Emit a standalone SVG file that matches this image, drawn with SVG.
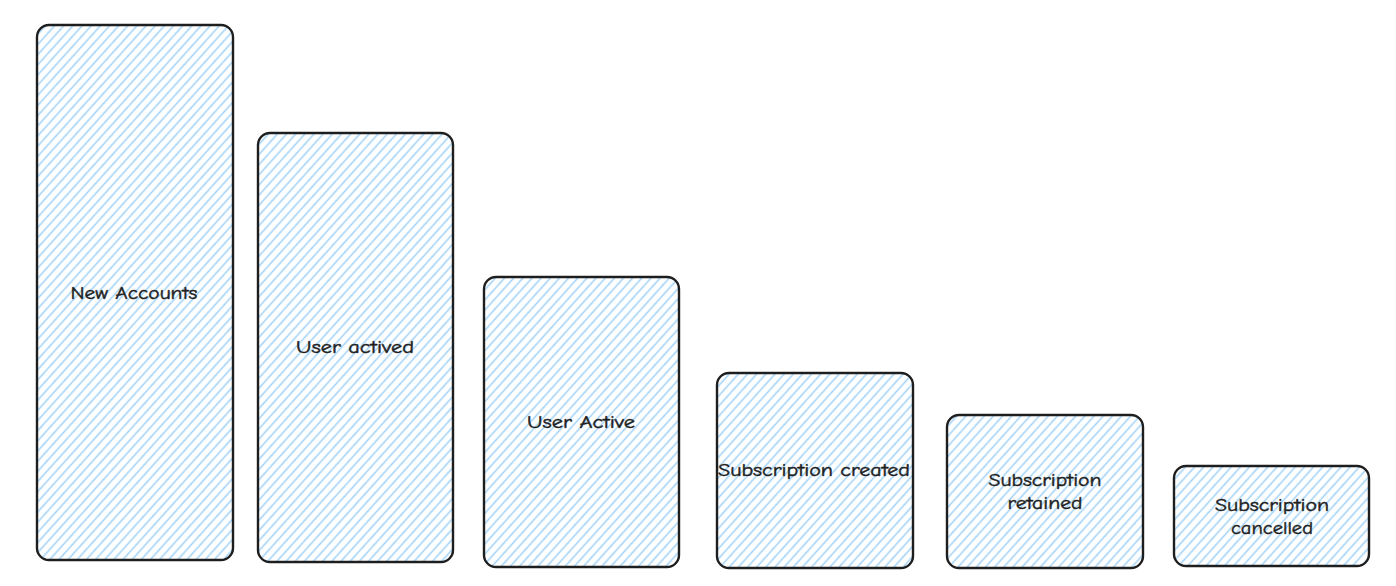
<svg xmlns="http://www.w3.org/2000/svg" width="1396" height="586" viewBox="0 0 1396 586">
<defs>
<pattern id="hatch" patternUnits="userSpaceOnUse" width="6.8" height="6.8" patternTransform="rotate(42)">
<line x1="3.4" y1="-1" x2="3.4" y2="7.8" stroke="#9fd0f7" stroke-width="1.5"/>
</pattern>
</defs>
<style>
.box{fill:url(#hatch);stroke:#1e1e1e;stroke-width:2.4;}
.lbl{font-family:"Comic Neue","Liberation Sans",sans-serif;font-size:18px;font-weight:400;fill:#1e1e1e;stroke:#1e1e1e;stroke-width:0.45;text-anchor:middle;dominant-baseline:central;}
</style>
<rect width="1396" height="586" fill="#ffffff"/>
<g id="connectors"/>
<g id="new-accounts">
<rect class="box" x="37" y="25" width="196" height="535" rx="12"/>
<text class="lbl" x="134" y="293" textLength="127" lengthAdjust="spacingAndGlyphs">New Accounts</text>
</g>
<g id="user-actived">
<rect class="box" x="258" y="133" width="195" height="429" rx="12"/>
<text class="lbl" x="355" y="347" textLength="118" lengthAdjust="spacingAndGlyphs">User actived</text>
</g>
<g id="user-active">
<rect class="box" x="484" y="277" width="195" height="290" rx="12"/>
<text class="lbl" x="581" y="422" textLength="108" lengthAdjust="spacingAndGlyphs">User Active</text>
</g>
<g id="subscription-created">
<rect class="box" x="717" y="373" width="196" height="195" rx="12"/>
<text class="lbl" x="814" y="470" textLength="192" lengthAdjust="spacingAndGlyphs">Subscription created</text>
</g>
<g id="subscription-retained">
<rect class="box" x="947" y="415" width="196" height="153" rx="12"/>
<text class="lbl" x="1045" y="480" textLength="113" lengthAdjust="spacingAndGlyphs">Subscription</text>
<text class="lbl" x="1045" y="503" textLength="75" lengthAdjust="spacingAndGlyphs">retained</text>
</g>
<g id="subscription-cancelled">
<rect class="box" x="1174" y="466" width="195" height="100" rx="12"/>
<text class="lbl" x="1272" y="505" textLength="114" lengthAdjust="spacingAndGlyphs">Subscription</text>
<text class="lbl" x="1272" y="528" textLength="82" lengthAdjust="spacingAndGlyphs">cancelled</text>
</g>
</svg>
